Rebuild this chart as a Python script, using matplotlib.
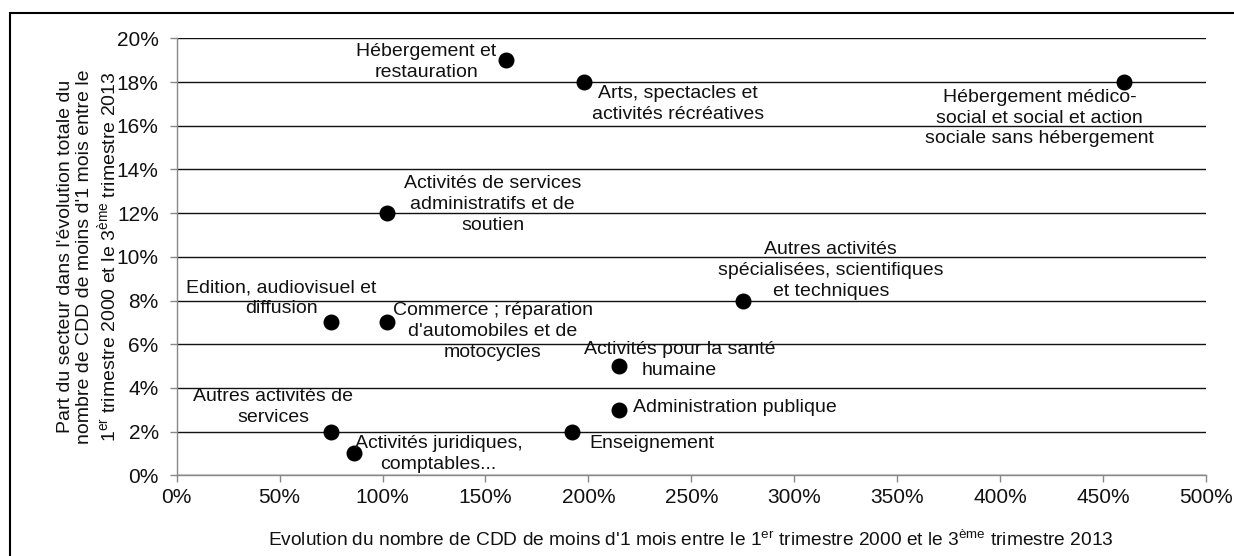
import matplotlib
matplotlib.use("Agg")
import matplotlib.pyplot as plt
from matplotlib.patches import Rectangle
from matplotlib.ticker import PercentFormatter

plt.rcParams["font.family"] = ["Liberation Sans", "DejaVu Sans"]
plt.rcParams["mathtext.fontset"] = "custom"
plt.rcParams["mathtext.rm"] = "Liberation Sans"
plt.rcParams["mathtext.it"] = "Liberation Sans"

# data: growth of short CDD (%) vs share of total change (%)
sectors = [
    "Hébergement et\nrestauration",
    "Arts, spectacles et\nactivités récréatives",
    "Hébergement médico-\nsocial et social et action\nsociale sans hébergement",
    "Activités de services\nadministratifs et de\nsoutien",
    "Autres activités\nspécialisées, scientifiques\net techniques",
    "Edition, audiovisuel et\ndiffusion",
    "Commerce ; réparation\nd'automobiles et de\nmotocycles",
    "Activités pour la santé\nhumaine",
    "Administration publique",
    "Autres activités de\nservices",
    "Enseignement",
    "Activités juridiques,\ncomptables...",
]
evolution = [160, 198, 460, 102, 275, 75, 102, 215, 215, 75, 192, 86]
part = [19, 18, 18, 12, 8, 7, 7, 5, 3, 2, 2, 1]

# label offsets in pixels (dx, dy) and horizontal alignment
label_offsets = [(-80, -2), (94, -22), (-84, -36), (106, 9), (88, 30), (-50, 24),
                 (106, -9), (60, 6), (14, 2), (-58, 25), (80, -12), (85, -1)]
label_ha = ["center"] * 8 + ["left"] + ["center"] * 3

FS = 14
W, H = 1234, 556
fig = plt.figure(figsize=(W / 100, H / 100), dpi=100)
ax = fig.add_axes([176.7 / W, 1 - 475.3 / H, (1206 - 176.7) / W, (475.3 - 38.3) / H])

ax.scatter(evolution, part, s=110, color="black", zorder=3, clip_on=False)

for name, x, y, off, ha in zip(sectors, evolution, part, label_offsets, label_ha):
    ax.annotate(name, (x, y), xytext=off, textcoords="offset pixels",
                ha=ha, va="center", multialignment="center", fontsize=FS,
                linespacing=1.3, color="#111111", zorder=4)

ax.set_xlim(0, 500)
ax.set_ylim(0, 20)
ax.set_xticks(range(0, 501, 50))
ax.set_yticks(range(0, 21, 2))
ax.xaxis.set_major_formatter(PercentFormatter(decimals=0))
ax.yaxis.set_major_formatter(PercentFormatter(decimals=0))
ax.tick_params(labelsize=15, colors="#888888", labelcolor="#111111",
               length=5, width=1, direction="out")
ax.tick_params(axis="x", pad=4)
ax.tick_params(axis="y", pad=8)

ax.yaxis.grid(True, color="#111111", linewidth=1)
ax.set_axisbelow(True)
for side in ("top", "right"):
    ax.spines[side].set_visible(False)
for side in ("left", "bottom"):
    ax.spines[side].set_color("#888888")
    ax.spines[side].set_linewidth(1)

fig.text(88 / W, 1 - 256.8 / H,
         "Part du secteur dans l'évolution totale du\n"
         "nombre de CDD de moins d'1 mois entre le\n"
         "1$^{\\rm er}$ trimestre 2000 et le 3$^{\\rm ème}$ trimestre 2013",
         rotation=90, ha="center", va="center", multialignment="center",
         fontsize=FS, linespacing=1.15, color="#111111")
fig.text(691 / W, 1 - 540 / H,
         "Evolution du nombre de CDD de moins d'1 mois entre le "
         "1$^{\\rm er}$ trimestre 2000 et le 3$^{\\rm ème}$ trimestre 2013",
         ha="center", va="center", fontsize=13.8, color="#111111")

# outer chart frame (left and top edges visible)
fig.patches.append(Rectangle((10 / W, -0.1), 1.2, 1 - 13 / H + 0.1,
                             transform=fig.transFigure, fill=False,
                             edgecolor="black", linewidth=1.5))

fig.savefig("out.png", dpi=100)
